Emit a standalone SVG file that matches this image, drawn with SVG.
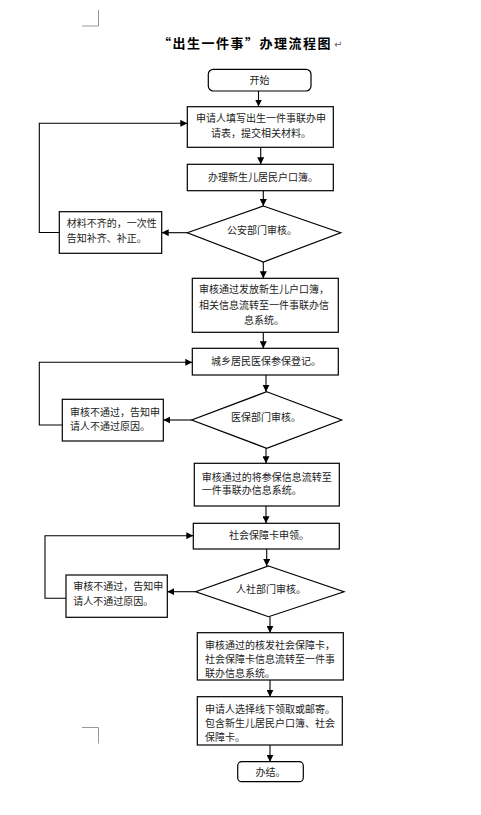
<svg xmlns="http://www.w3.org/2000/svg" width="481" height="815" viewBox="0 0 481 815">
<style>
.box{fill:#fff;stroke:#000;stroke-width:1.2}
.t{font-family:"Noto Sans CJK SC","Liberation Sans",sans-serif;font-size:10px;fill:#222}
.c{text-anchor:middle}
.ln{fill:none;stroke:#000;stroke-width:1.1}
.crop{fill:none;stroke:#999;stroke-width:1}
</style>
<defs>
<marker id="ah" viewBox="0 0 10 10" refX="10" refY="5" markerWidth="7" markerHeight="7" markerUnits="userSpaceOnUse" orient="auto">
<path d="M0,0 L10,5 L0,10 z" fill="#000"/>
</marker>
</defs>
<rect width="481" height="815" fill="#fff"/>
<path class="crop" d="M82,26 H98.5 V10"/>
<path class="crop" d="M82,727.5 H98.5 V743.5"/>
<text x="245" y="48" text-anchor="middle" font-family="Noto Sans CJK SC,sans-serif" font-size="13" font-weight="bold" letter-spacing="1.5" fill="#000">“出生一件事”办理流程图</text>
<text x="334" y="48" font-family="DejaVu Sans,sans-serif" font-size="10" fill="#666">↵</text>

<g id="connectors">
<line class="ln" x1="258.5" y1="91" x2="258.5" y2="106.5" marker-end="url(#ah)"/>
<line class="ln" x1="260.7" y1="147.3" x2="260.7" y2="164.3" marker-end="url(#ah)"/>
<line class="ln" x1="263.3" y1="190.7" x2="263.3" y2="206" marker-end="url(#ah)"/>
<line class="ln" x1="187.3" y1="232.7" x2="161.7" y2="232.7" marker-end="url(#ah)"/>
<polyline class="ln" points="59.3,232.5 39.3,232.5 39.3,123.3 187.3,123.3" marker-end="url(#ah)"/>
<line class="ln" x1="263.3" y1="262" x2="263.3" y2="278.3" marker-end="url(#ah)"/>
<line class="ln" x1="263.3" y1="332.3" x2="263.3" y2="348.3" marker-end="url(#ah)"/>
<line class="ln" x1="266" y1="375" x2="266" y2="391.7" marker-end="url(#ah)"/>
<line class="ln" x1="191.7" y1="420" x2="163.3" y2="420" marker-end="url(#ah)"/>
<polyline class="ln" points="62.3,425 39.3,425 39.3,362.3 192.3,362.3" marker-end="url(#ah)"/>
<line class="ln" x1="266" y1="448.3" x2="266" y2="463.3" marker-end="url(#ah)"/>
<line class="ln" x1="266" y1="506" x2="266" y2="523.3" marker-end="url(#ah)"/>
<line class="ln" x1="266.7" y1="549" x2="266.7" y2="566" marker-end="url(#ah)"/>
<line class="ln" x1="195.7" y1="591.7" x2="167.3" y2="591.7" marker-end="url(#ah)"/>
<polyline class="ln" points="66,598.3 45,598.3 45,535.7 193.3,535.7" marker-end="url(#ah)"/>
<line class="ln" x1="270" y1="616.7" x2="270" y2="632.7" marker-end="url(#ah)"/>
<line class="ln" x1="270" y1="680" x2="270" y2="696.7" marker-end="url(#ah)"/>
<line class="ln" x1="270" y1="745" x2="270" y2="761.7" marker-end="url(#ah)"/>
</g>

<g id="start">
<rect class="box" x="208.3" y="69.3" width="102.7" height="21.7" rx="5"/>
<text class="t c" x="259.5" y="84">开始</text>
</g>
<g id="apply">
<rect class="box" x="187.3" y="106.7" width="146" height="40.6"/>
<text class="t c" x="261" y="122">申请人填写出生一件事联办申</text>
<text class="t c" x="261" y="137">请表，提交相关材料。</text>
</g>
<g id="hukou">
<rect class="box" x="187.3" y="164.3" width="146" height="26.4"/>
<text class="t c" x="263" y="181">办理新生儿居民户口簿。</text>
</g>
<g id="police-review">
<polygon class="box" points="263.3,206 340.7,232.7 263.3,262 187.3,232.7"/>
<text class="t c" x="262" y="234">公安部门审核。</text>
</g>
<g id="materials">
<rect class="box" x="59.3" y="211.7" width="102.4" height="41.6"/>
<text class="t" x="66.7" y="227">材料不齐的，一次性</text>
<text class="t" x="66.7" y="242">告知补齐、补正。</text>
</g>
<g id="hukou-issued">
<rect class="box" x="192.3" y="278.3" width="146" height="54"/>
<text class="t c" x="264" y="293">审核通过发放新生儿户口簿，</text>
<text class="t c" x="264" y="309">相关信息流转至一件事联办信</text>
<text class="t c" x="264" y="323.5">息系统。</text>
</g>
<g id="medical">
<rect class="box" x="192.3" y="348.3" width="146" height="26.7"/>
<text class="t c" x="266" y="364.5">城乡居民医保参保登记。</text>
</g>
<g id="medical-review">
<polygon class="box" points="266.7,391.7 341.7,420 266.7,448.3 191.7,420"/>
<text class="t c" x="266" y="420.5">医保部门审核。</text>
</g>
<g id="medical-fail">
<rect class="box" x="62.3" y="399.3" width="101" height="41.7"/>
<text class="t" x="70" y="415.5">审核不通过，告知申</text>
<text class="t" x="70" y="430">请人不通过原因。</text>
</g>
<g id="medical-pass">
<rect class="box" x="194.3" y="463.3" width="145" height="42.7"/>
<text class="t" x="201.7" y="480.5">审核通过的将参保信息流转至</text>
<text class="t" x="201.7" y="494">一件事联办信息系统。</text>
</g>
<g id="card-apply">
<rect class="box" x="193.3" y="523.3" width="146" height="25.7"/>
<text class="t c" x="269" y="539">社会保障卡申领。</text>
</g>
<g id="hr-review">
<polygon class="box" points="268.5,566 344,591.7 268.5,616.7 195.7,591.7"/>
<text class="t c" x="271" y="593">人社部门审核。</text>
</g>
<g id="hr-fail">
<rect class="box" x="66" y="575" width="101.3" height="42.3"/>
<text class="t" x="73.3" y="590">审核不通过，告知申</text>
<text class="t" x="73.3" y="605">请人不通过原因。</text>
</g>
<g id="card-issued">
<rect class="box" x="197.3" y="632.7" width="146" height="47.3"/>
<text class="t" x="205" y="649">审核通过的核发社会保障卡，</text>
<text class="t" x="205" y="662.5">社会保障卡信息流转至一件事</text>
<text class="t" x="205" y="676.5">联办信息系统。</text>
</g>
<g id="pickup">
<rect class="box" x="197.3" y="696.7" width="145" height="48.3"/>
<text class="t" x="205" y="713">申请人选择线下领取或邮寄。</text>
<text class="t" x="205" y="726.5">包含新生儿居民户口簿、社会</text>
<text class="t" x="205" y="740.5">保障卡。</text>
</g>
<g id="end">
<rect class="box" x="237.7" y="761.7" width="65.6" height="20" rx="4"/>
<text class="t c" x="270.5" y="775.5">办结。</text>
</g>
</svg>
